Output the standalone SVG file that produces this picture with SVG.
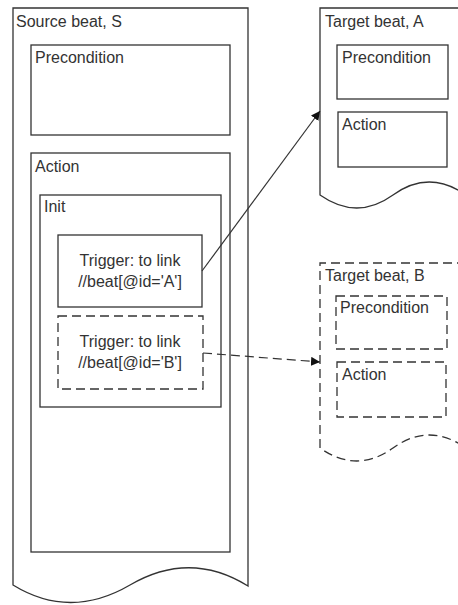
<svg xmlns="http://www.w3.org/2000/svg" width="458" height="605" viewBox="0 0 458 605">
  <defs>
    <style>
      .box { fill: #ffffff; stroke: #333333; stroke-width: 1.3; }
      .dash { stroke-dasharray: 9 5; }
      .lbl { font-family: "Liberation Sans", Arial, sans-serif; font-size: 16px; fill: #333333; }
      .mid { text-anchor: middle; }
      .conn { fill: none; stroke: #333333; stroke-width: 1.2; }
    </style>
    <marker id="arrow" viewBox="0 0 10 10" refX="10" refY="5" markerWidth="9" markerHeight="9" markerUnits="userSpaceOnUse" orient="auto">
      <path d="M0,0 L10,5 L0,10 Z" fill="#111111"/>
    </marker>
  </defs>

  <rect width="458" height="605" fill="#ffffff"/>

  <!-- Source beat S with its nested parts -->
  <g id="source-beat">
    <path class="box" d="M13,8 H248 V586 Q190,550 130,585 Q70,620 13,585 Z"/>
    <text class="lbl" x="16" y="27">Source beat, S</text>
  </g>
  <g id="source-precondition">
    <rect class="box" x="31" y="45" width="199" height="90"/>
    <text class="lbl" x="35" y="63">Precondition</text>
  </g>
  <g id="source-action">
    <rect class="box" x="31" y="153" width="199" height="399"/>
    <text class="lbl" x="35" y="172">Action</text>
  </g>
  <g id="init">
    <rect class="box" x="40" y="195" width="181" height="212"/>
    <text class="lbl" x="44" y="212">Init</text>
  </g>
  <g id="trigger-a">
    <rect class="box" x="58" y="235" width="144" height="72"/>
    <text class="lbl mid" x="130" y="266">Trigger: to link</text>
    <text class="lbl mid" x="130" y="287">//beat[@id='A']</text>
  </g>
  <g id="trigger-b">
    <rect class="box dash" x="58" y="316" width="145" height="73"/>
    <text class="lbl mid" x="130" y="347">Trigger: to link</text>
    <text class="lbl mid" x="130" y="368">//beat[@id='B']</text>
  </g>

  <!-- Target beat A -->
  <g id="target-a">
    <path class="box" d="M466,8 H320 V195 Q357,221 393,195 T466,195"/>
    <text class="lbl" x="325" y="27">Target beat, A</text>
  </g>
  <g id="target-a-precondition">
    <rect class="box" x="337" y="45" width="111" height="54"/>
    <text class="lbl" x="342" y="63">Precondition</text>
  </g>
  <g id="target-a-action">
    <rect class="box" x="338" y="112" width="109" height="55"/>
    <text class="lbl" x="342" y="130">Action</text>
  </g>

  <!-- Target beat B (dashed) -->
  <g id="target-b">
    <path class="box dash" d="M466,263 H320 V448 Q357,474 393,448 T466,448"/>
    <text class="lbl" x="325" y="281">Target beat, B</text>
  </g>
  <g id="target-b-precondition">
    <rect class="box dash" x="336" y="296" width="111" height="53"/>
    <text class="lbl" x="340" y="313">Precondition</text>
  </g>
  <g id="target-b-action">
    <rect class="box dash" x="337" y="362" width="109" height="55"/>
    <text class="lbl" x="342" y="380">Action</text>
  </g>

  <!-- Links from triggers to target beats -->
  <g id="connectors">
    <line class="conn" x1="202" y1="271" x2="320" y2="111" marker-end="url(#arrow)"/>
    <line class="conn dash" x1="203" y1="353" x2="320" y2="362" marker-end="url(#arrow)"/>
  </g>
</svg>
